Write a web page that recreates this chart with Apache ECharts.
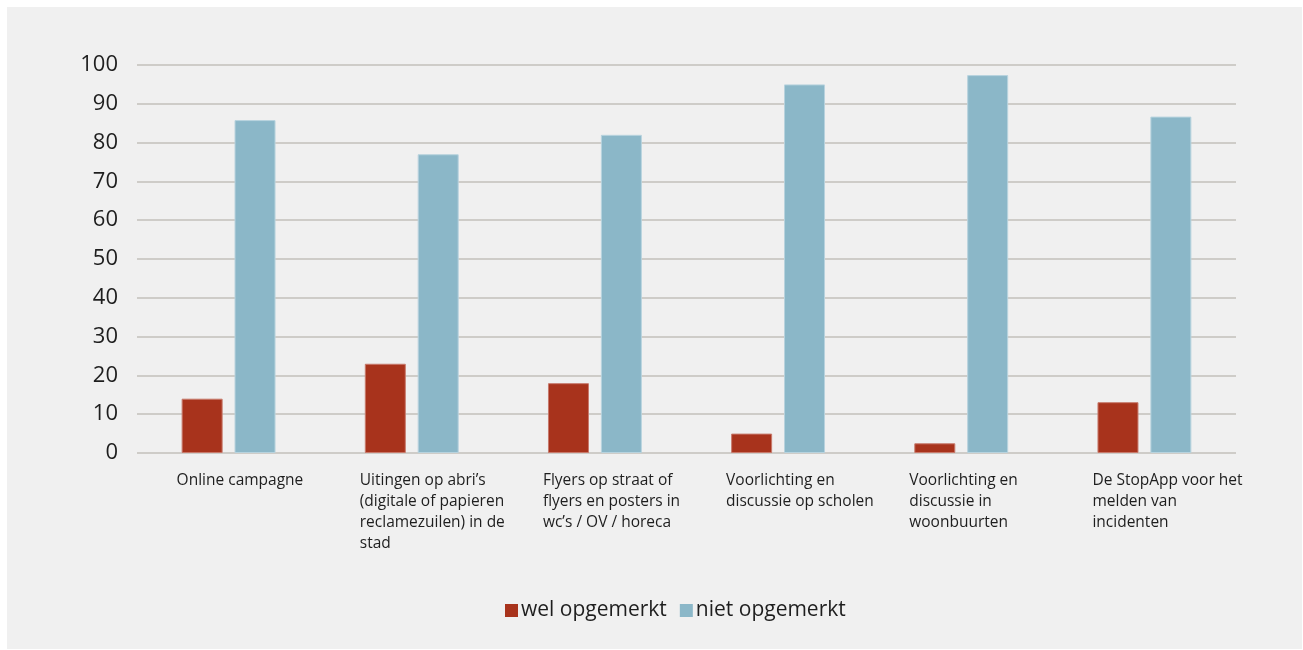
<!DOCTYPE html>
<html>
<head>
<meta charset="utf-8">
<script src="https://cdn.jsdelivr.net/npm/echarts@6/dist/echarts.min.js"></script>
<style>
  html, body { margin:0; padding:0; background:#ffffff; }
  #chart { position:absolute; left:7px; top:7px; width:1295px; height:642px; background:#f0f0f0; }
</style>
</head>
<body>
<div id="chart"></div>
<script>
// categorieën en waarden
const categories = [
  "Online campagne",
  "Uitingen op abri’s\n(digitale of papieren\nreclamezuilen) in de\nstad",
  "Flyers op straat of\nflyers en posters in\nwc’s / OV / horeca",
  "Voorlichting en\ndiscussie op scholen",
  "Voorlichting en\ndiscussie in\nwoonbuurten",
  "De StopApp voor het\nmelden van\nincidenten"
];
const welOpgemerkt = [14, 23, 18, 5, 2.5, 13.1];
const nietOpgemerkt = [85.8, 77, 82, 95, 97.4, 86.7];
const seriesNames = ["wel opgemerkt", "niet opgemerkt"];

const font = "'Open Sans', 'Noto Sans', sans-serif";

const myChart = echarts.init(document.getElementById("chart"));
myChart.setOption({
  animation: false,
  textStyle: { fontFamily: font },
  grid: { left: 130, right: 66, top: 58, bottom: 196 },
  legend: {
    data: seriesNames,
    left: 493, top: 588,
    itemWidth: 13, itemHeight: 13, itemGap: 13,
    icon: "rect",
    itemStyle: { borderWidth: 0 },
    textStyle: { fontSize: 21, color: "#1e1e1e", fontFamily: font, padding: [0, 0, 0, -2] }
  },
  xAxis: {
    type: "category",
    data: categories,
    axisLine: { show: false },
    axisTick: { show: false },
    axisLabel: {
      interval: 0,
      margin: 17,
      formatter: v => v.split("\n").map(s => "{a|" + s + "}").join("\n"),
      rich: {
        a: { width: 104, align: "left", fontSize: 15.5, lineHeight: 21, color: "#1e1e1e", fontFamily: font }
      }
    }
  },
  yAxis: {
    type: "value",
    min: 0, max: 100, interval: 10,
    axisLine: { show: false },
    axisTick: { show: false },
    axisLabel: { fontSize: 22, color: "#1e1e1e", margin: 19, fontFamily: font },
    splitLine: { lineStyle: { color: "#c3c1bb", width: 1.5 } }
  },
  series: [
    {
      name: seriesNames[0], type: "bar", data: welOpgemerkt,
      barWidth: 41, barGap: "29%",
      itemStyle: { color: "#a8331c", borderColor: "#c77a6c", borderWidth: 1 }
    },
    {
      name: seriesNames[1], type: "bar", data: nietOpgemerkt,
      barWidth: 41, barGap: "29%",
      itemStyle: { color: "#8bb7c8", borderColor: "#b8d3de", borderWidth: 1 }
    }
  ]
});
window.addEventListener("resize", () => myChart.resize());
</script>
</body>
</html>
